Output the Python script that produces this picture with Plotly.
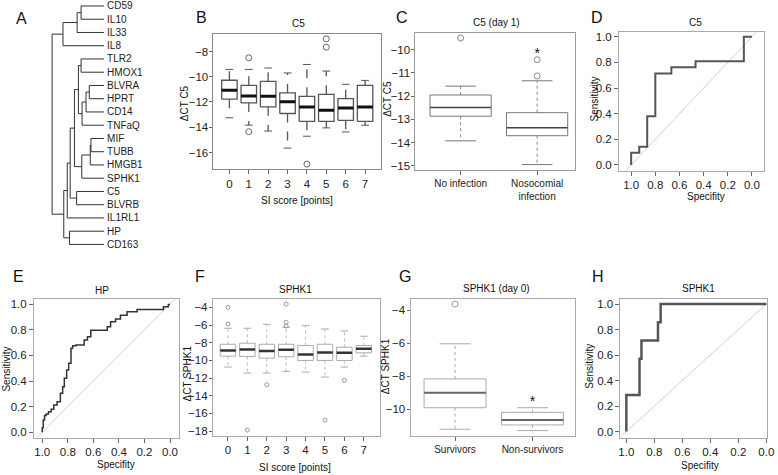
import plotly.graph_objects as go

W, H = 778, 475
FONT = "Arial, Liberation Sans, sans-serif"

# ---------------- Panel A : dendrogram ----------------
A_leaves = ["CD59", "IL10", "IL33", "IL8", "TLR2", "HMOX1", "BLVRA", "HPRT", "CD14",
            "TNFaQ", "MIF", "TUBB", "HMGB1", "SPHK1", "C5", "BLVRB", "IL1RL1", "HP", "CD163"]
# hclust style merges: negative = leaf (1-based), positive = earlier merge (1-based)
A_merge_left = [-11, 1, -7, 3, 4, 2, -1, -5, 8, 7, -15, 9, 12, -18, 13, 10, 15, 16]
A_merge_right = [-12, -13, -8, -9, -10, -14, -2, -6, 5, -3, -16, 6, 11, -19, -17, -4, 14, 17]
A_heights = [13.3, 14.0, 15.0, 18.3, 22.3, 22.6, 23.3, 23.3, 26.0, 27.3, 27.8, 30.0,
             34.3, 35.0, 37.3, 41.6, 40.8, 52.6]

# ---------------- Panel B : C5 vs SI score ----------------
B_scores = [0, 1, 2, 3, 4, 5, 6, 7]
B_lo = [-13.25, -13.83, -14.30, -15.65, -14.71, -14.05, -14.37, -13.84]
B_q1 = [-11.78, -12.07, -12.38, -12.91, -13.53, -13.53, -13.45, -13.53]
B_med = [-11.07, -11.52, -11.54, -11.99, -12.39, -12.66, -12.47, -12.39]
B_q3 = [-10.28, -10.68, -10.36, -11.28, -11.55, -11.39, -11.74, -10.68]
B_hi = [-9.42, -9.42, -9.31, -9.70, -9.03, -9.55, -10.60, -10.29]
B_out_x = [1, 1, 4, 5, 5]
B_out_y = [-8.50, -14.35, -16.92, -7.00, -7.66]

# ---------------- Panel C : C5 day 1 ----------------
C_pos = [1, 2]
C_labels = ["No infection", "Nosocomial<br>infection"]
C_lo = [-13.92, -14.94]
C_q1 = [-12.86, -13.70]
C_med = [-12.49, -13.36]
C_q3 = [-11.95, -12.71]
C_hi = [-11.57, -11.34]
C_out_x = [1, 2, 2]
C_out_y = [-9.50, -11.13, -10.43]
C_star_x = [2]
C_star_y = [-9.89]

# ---------------- Panel D : ROC C5 ----------------
D_spec = [1.0, 1.0, 0.933, 0.933, 0.867, 0.867, 0.8, 0.8, 0.667, 0.667, 0.467, 0.467, 0.067, 0.067, 0.0]
D_sens = [0.0, 0.095, 0.095, 0.143, 0.143, 0.381, 0.381, 0.714, 0.714, 0.762, 0.762, 0.81, 0.81, 1.0, 1.0]

# ---------------- Panel E : ROC HP ----------------
E_spec = [1.0, 0.992, 0.982, 0.969, 0.951, 0.93, 0.91, 0.884, 0.858, 0.84, 0.827, 0.809, 0.793,
          0.775, 0.762, 0.736, 0.672, 0.646, 0.62, 0.581, 0.491, 0.465, 0.426, 0.388, 0.336,
          0.258, 0.22, 0.052, 0.039, 0.013, 0.005, 0.0]
E_sens = [0.0, 0.036, 0.096, 0.13, 0.143, 0.161, 0.179, 0.213, 0.239, 0.304, 0.356, 0.421, 0.486,
          0.538, 0.655, 0.675, 0.681, 0.719, 0.745, 0.797, 0.797, 0.823, 0.862, 0.883, 0.914,
          0.94, 0.958, 0.958, 0.979, 0.979, 0.997, 0.997]

# ---------------- Panel F : SPHK1 vs SI score ----------------
F_scores = [0, 1, 2, 3, 4, 5, 6, 7]
F_lo = [-10.75, -11.43, -11.43, -11.24, -11.32, -11.88, -10.75, -9.52]
F_q1 = [-9.52, -9.55, -9.74, -9.59, -10.00, -10.00, -10.00, -9.14]
F_med = [-8.88, -8.77, -8.92, -8.80, -9.33, -9.10, -9.14, -8.69]
F_q3 = [-8.17, -8.05, -8.17, -8.17, -8.32, -8.17, -8.50, -8.32]
F_hi = [-6.36, -6.36, -5.91, -6.25, -6.06, -6.44, -6.66, -7.26]
F_out_x = [0, 0, 1, 2, 3, 3, 3, 5, 6]
F_out_y = [-4.0, -5.88, -17.88, -12.74, -3.62, -5.69, -6.10, -16.76, -12.26]

# ---------------- Panel G : SPHK1 day 0 ----------------
G_pos = [1, 2]
G_labels = ["Survivors", "Non-survivors"]
G_lo = [-11.20, -11.28]
G_q1 = [-9.90, -10.94]
G_med = [-9.00, -10.64]
G_q3 = [-8.16, -10.18]
G_hi = [-6.04, -9.90]
G_out_x = [1]
G_out_y = [-3.64]
G_star_x = [2]
G_star_y = [-9.18]

# ---------------- Panel H : ROC SPHK1 ----------------
H_spec = [1.0, 1.0, 0.906, 0.906, 0.892, 0.892, 0.774, 0.774, 0.755, 0.755, 0.0]
H_sens = [0.0, 0.286, 0.286, 0.571, 0.571, 0.714, 0.714, 0.857, 0.857, 1.0, 1.0]


def dx(a, b):
    return [a / W, b / W]


def dy(top, bottom):
    return [1 - bottom / H, 1 - top / H]


fig = go.Figure()

# ---- dendrogram
nodes = []


def node_pos(ref):
    if ref < 0:
        return 0.0, float(-ref - 1)
    return nodes[ref - 1]


den_x, den_y = [], []
for l, r, h in zip(A_merge_left, A_merge_right, A_heights):
    xl, yl = node_pos(l)
    xr, yr = node_pos(r)
    den_x += [xl, h, h, xr, None]
    den_y += [yl, yl, yr, yr, None]
    nodes.append((h, (yl + yr) / 2))
fig.add_trace(go.Scatter(x=den_x, y=den_y, mode="lines", line=dict(color="#333", width=1),
                         xaxis="x", yaxis="y", hoverinfo="skip"))


def add_boxes(ax, pos, lo, q1, med, q3, hi, w, box_col, box_w, med_col, med_w,
              wh_col, wh_dash, wh_w, cap_col):
    xa, ya = "x" + ax, "y" + ax
    bx, by, mx, my, wx, wy, cx, cy = [], [], [], [], [], [], [], []
    for p, a, b, c, d, e in zip(pos, lo, q1, med, q3, hi):
        L, R = p - w / 2, p + w / 2
        bx += [L, R, R, L, L, None]
        by += [b, b, d, d, b, None]
        mx += [L, R, None]
        my += [c, c, None]
        wx += [p, p, None, p, p, None]
        wy += [d, e, None, b, a, None]
        cx += [p - w / 4, p + w / 4, None, p - w / 4, p + w / 4, None]
        cy += [e, e, None, a, a, None]
    fig.add_trace(go.Scatter(x=wx, y=wy, mode="lines", xaxis=xa, yaxis=ya, hoverinfo="skip",
                             line=dict(color=wh_col, width=wh_w, dash=wh_dash)))
    fig.add_trace(go.Scatter(x=cx, y=cy, mode="lines", xaxis=xa, yaxis=ya, hoverinfo="skip",
                             line=dict(color=cap_col, width=1)))
    fig.add_trace(go.Scatter(x=bx, y=by, mode="lines", xaxis=xa, yaxis=ya, hoverinfo="skip",
                             line=dict(color=box_col, width=box_w)))
    fig.add_trace(go.Scatter(x=mx, y=my, mode="lines", xaxis=xa, yaxis=ya, hoverinfo="skip",
                             line=dict(color=med_col, width=med_w)))


def add_points(ax, xs, ys, size, col):
    fig.add_trace(go.Scatter(x=xs, y=ys, mode="markers", xaxis="x" + ax, yaxis="y" + ax,
                             hoverinfo="skip", cliponaxis=False,
                             marker=dict(symbol="circle-open", size=size, color=col,
                                         line=dict(width=1, color=col))))


def add_star(ax, xs, ys):
    fig.add_trace(go.Scatter(x=xs, y=ys, mode="text", text=["*"] * len(xs), xaxis="x" + ax,
                             yaxis="y" + ax, hoverinfo="skip", textposition="bottom center",
                             textfont=dict(size=14, color="#111", family=FONT)))


def add_roc(ax, spec, sens, col, w, shape="linear"):
    fig.add_trace(go.Scatter(x=[1.3, -0.3], y=[-0.3, 1.3], mode="lines", xaxis="x" + ax,
                             yaxis="y" + ax, hoverinfo="skip",
                             line=dict(color="#d0d0d0", width=1)))
    fig.add_trace(go.Scatter(x=spec, y=sens, mode="lines", xaxis="x" + ax, yaxis="y" + ax,
                             hoverinfo="skip", line=dict(color=col, width=w, shape=shape)))


# B
add_boxes("2", B_scores, B_lo, B_q1, B_med, B_q3, B_hi, 0.8, "#555", 1.3, "#111", 3,
          "#555", "dash", 1.3, "#555")
add_points("2", B_out_x, B_out_y, 6, "#666")
# C
add_boxes("3", C_pos, C_lo, C_q1, C_med, C_q3, C_hi, 0.8, "#777", 1, "#444", 1.5,
          "#888", "dot", 1, "#777")
add_points("3", C_out_x, C_out_y, 6, "#888")
add_star("3", C_star_x, C_star_y)
# D
add_roc("4", D_spec, D_sens, "#555", 2)
# E
add_roc("5", E_spec, E_sens, "#333", 1.5, "vh")
# F
add_boxes("6", F_scores, F_lo, F_q1, F_med, F_q3, F_hi, 0.8, "#aaa", 1, "#333", 2.5,
          "#bbb", "dot", 1, "#aaa")
add_points("6", F_out_x, F_out_y, 4, "#999")
# G
add_boxes("7", G_pos, G_lo, G_q1, G_med, G_q3, G_hi, 0.8, "#aaa", 1, "#666", 2,
          "#aaa", "dot", 1, "#aaa")
add_points("7", G_out_x, G_out_y, 6, "#999")
add_star("7", G_star_x, G_star_y)
# H
add_roc("8", H_spec, H_sens, "#555", 2.5)


def frame_axis(domain, rng, frame_col="#888", **kw):
    d = dict(domain=domain, range=rng, showgrid=False, zeroline=False, showline=True,
             mirror=True, linecolor=frame_col, linewidth=1, ticks="outside", ticklen=4,
             tickcolor="#666", tickwidth=1, tickfont=dict(size=11.5, color="#222", family=FONT),
             ticklabeloverflow="allow", fixedrange=True)
    d.update(kw)
    return d


roc_ticks = dict(tickvals=[0, 0.2, 0.4, 0.6, 0.8, 1.0], tickformat=".1f")

layout = dict(
    width=W, height=H, margin=dict(l=0, r=0, t=0, b=0), showlegend=False,
    paper_bgcolor="white", plot_bgcolor="white", font=dict(family=FONT, color="#222"),
    # A
    xaxis=dict(domain=dx(40, 103.3), range=[63.3, 0], visible=False, fixedrange=True),
    yaxis=dict(domain=dy(0, 250), range=[18.375, -0.375], side="right", anchor="x",
               tickvals=list(range(len(A_leaves))), ticktext=A_leaves, showgrid=False,
               zeroline=False, showline=False, ticks="", ticklabelstandoff=2,
               tickfont=dict(size=10, color="#222", family=FONT), fixedrange=True),
    # B
    xaxis2=frame_axis(dx(213, 383), [-0.87, 7.8], anchor="y2", tickvals=B_scores),
    yaxis2=frame_axis(dy(33, 169), [-17.3, -6.6], anchor="x2", ticklen=3, ticklabelstandoff=-2,
                      tickvals=[-16, -14, -12, -10, -8]),
    # C
    xaxis3=frame_axis(dx(418.3, 579.3), [0.41, 2.49], "#999", anchor="y3", tickvals=C_pos,
                      ticktext=C_labels, tickfont=dict(size=10, color="#222", family=FONT)),
    yaxis3=frame_axis(dy(32.3, 170), [-15.17, -9.29], "#999", anchor="x3", ticklen=3,
                      ticklabelstandoff=-1, tickvals=[-15, -14, -13, -12, -11, -10]),
    # D
    xaxis4=frame_axis(dx(624.3, 770.7), [1.1, -0.098], "#aaa", anchor="y4", **roc_ticks),
    yaxis4=frame_axis(dy(31, 170.7), [-0.044, 1.039], "#aaa", anchor="x4", **roc_ticks),
    # E
    xaxis5=frame_axis(dx(32.3, 179.3), [1.065, -0.072], "#aaa", anchor="y5", **roc_ticks),
    yaxis5=frame_axis(dy(300, 439.3), [-0.041, 1.039], "#aaa", anchor="x5", **roc_ticks),
    # F
    xaxis6=frame_axis(dx(213.3, 382.7), [-0.78, 7.85], "#aaa", anchor="y6", tickvals=F_scores),
    yaxis6=frame_axis(dy(300, 437.3), [-18.5, -3.06], "#aaa", anchor="x6", ticklen=3,
                      ticklabelstandoff=-1, tickvals=[-18, -16, -14, -12, -10, -8, -6, -4]),
    # G
    xaxis7=frame_axis(dx(413.3, 580), [0.425, 2.553], "#aaa", anchor="y7", tickvals=G_pos,
                      ticktext=G_labels, tickfont=dict(size=10, color="#222", family=FONT)),
    yaxis7=frame_axis(dy(300, 437.3), [-11.58, -3.34], "#aaa", anchor="x7", ticklen=3,
                      ticklabelstandoff=-1, tickvals=[-10, -8, -6, -4]),
    # H
    xaxis8=frame_axis(dx(625.7, 774.3), [1.042, -0.007], "#aaa", anchor="y8", **roc_ticks),
    yaxis8=frame_axis(dy(300, 439.3), [-0.047, 1.039], "#aaa", anchor="x8", **roc_ticks),
)
fig.update_layout(**layout)

ann = []


def txt(s, x, y, size=10, angle=0):
    ann.append(dict(text=s, x=x / W, y=1 - y / H, xref="paper", yref="paper", showarrow=False,
                    xanchor="center", yanchor="middle", textangle=angle,
                    font=dict(size=size, color="#111", family=FONT)))


for s, x, y in [("A", 20, 18), ("B", 202, 17), ("C", 405, 17), ("D", 602, 17),
                ("E", 17, 277), ("F", 200, 277), ("G", 408, 277), ("H", 603, 277)]:
    txt(s, x, y, 16)
for s, x, y in [("C5", 300, 23), ("C5 (day 1)", 500, 22), ("C5", 702, 22), ("HP", 101, 291),
                ("SPHK1", 297, 290), ("SPHK1 (day 0)", 500, 289), ("SPHK1", 705, 289)]:
    txt(s, x, y, 10)
for s, x, y in [("SI score [points]", 298, 201), ("Specifity", 712, 197), ("Specifity", 115, 466),
                ("SI score [points]", 296, 469), ("Specifity", 706, 467)]:
    txt(s, x, y, 10)
for s, x, y in [("ΔCT C5", 184, 103), ("ΔCT C5", 390, 98), ("Sensitivity", 599, 99),
                ("Sensitivity", 5, 370), ("ΔCT SPHK1", 188, 375), ("ΔCT SPHK1", 388, 368),
                ("Sensitivity", 595, 368)]:
    txt(s, x, y, 10, -90)
fig.update_layout(annotations=ann)

fig.write_html("out.html", config={"displayModeBar": False},
               post_script="document.body.style.margin='0px';document.body.style.overflow='hidden';")
